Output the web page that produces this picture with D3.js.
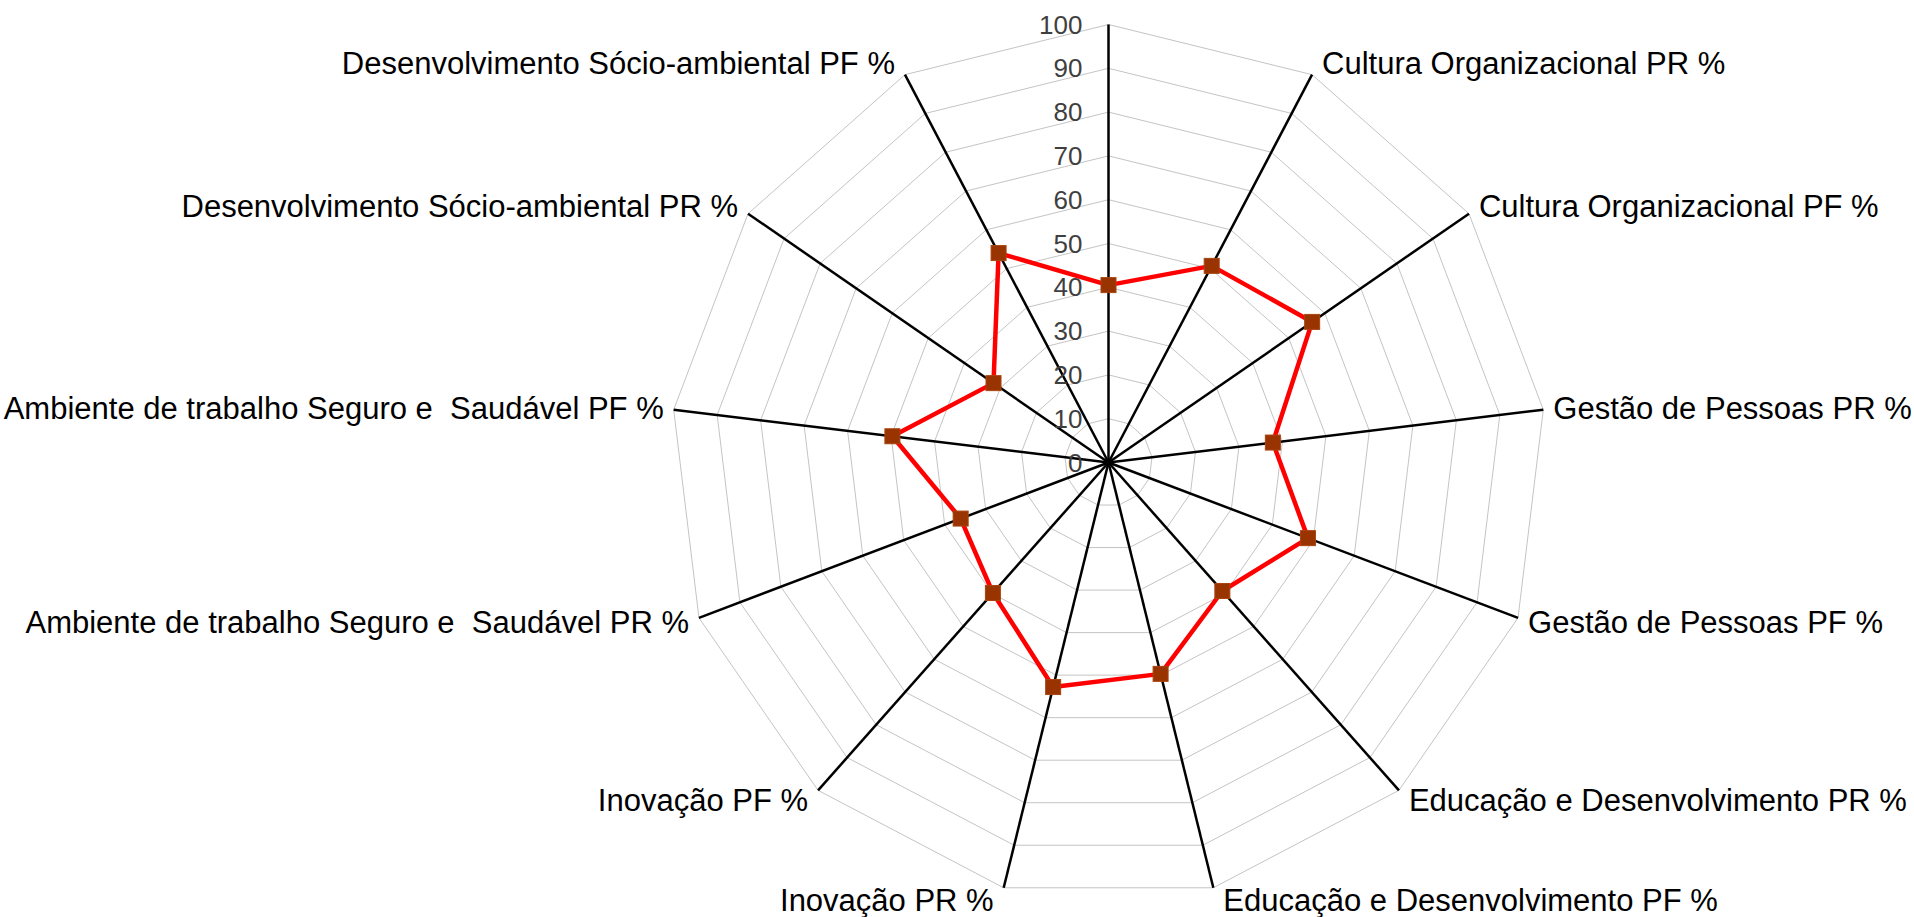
<!DOCTYPE html>
<html>
<head>
<meta charset="utf-8">
<script src="https://cdn.jsdelivr.net/npm/d3@7"></script>
<style>
  html, body { margin: 0; padding: 0; background: #fff; }
  svg { display: block; }
  text { font-family: "Liberation Sans", Arial, sans-serif; white-space: pre; }
</style>
</head>
<body>
<svg id="chart" width="1914" height="917"></svg>
<script>
// Dimensions (axes), clockwise from the top spoke
const categories = [
  "",
  "Cultura Organizacional PR %",
  "Cultura Organizacional PF %",
  "Gestão de Pessoas PR %",
  "Gestão de Pessoas PF %",
  "Educação e Desenvolvimento PR %",
  "Educação e Desenvolvimento PF %",
  "Inovação PR %",
  "Inovação PF %",
  "Ambiente de trabalho Seguro e  Saudável PR %",
  "Ambiente de trabalho Seguro e  Saudável PF %",
  "Desenvolvimento Sócio-ambiental PR %",
  "Desenvolvimento Sócio-ambiental PF %"
];

// Percentages for each dimension
const values = [40.5, 50.7, 56.5, 37.8, 48.7, 39.2, 49.7, 52.8, 39.8, 36.1, 49.7, 31.9, 54.0];

// Radial tick values
const ticks = [0, 10, 20, 30, 40, 50, 60, 70, 80, 90, 100];

const svg = d3.select("#chart");
const cx = 1108.5, cy = 462.5, R = 438;

const r = d3.scaleLinear().domain([0, 100]).range([0, R]);
const angle = d3.scaleLinear().domain([0, categories.length]).range([0, 2 * Math.PI]);

const g = svg.append("g").attr("transform", `translate(${cx},${cy})`);

const pt = (i, v) => [Math.sin(angle(i)) * r(v), -Math.cos(angle(i)) * r(v)];

// Concentric gridline polygons
const gridLine = d3.lineRadial()
  .angle((d, i) => angle(i))
  .radius(d => r(d))
  .curve(d3.curveLinearClosed);

g.append("g").selectAll("path")
  .data(ticks.filter(t => t > 0))
  .join("path")
  .attr("d", t => gridLine(categories.map(() => t)))
  .attr("fill", "none")
  .attr("stroke", "#c4c4c4")
  .attr("stroke-width", 1);

// Spokes
g.append("g").selectAll("line")
  .data(categories)
  .join("line")
  .attr("x1", 0).attr("y1", 0)
  .attr("x2", (d, i) => pt(i, 100)[0])
  .attr("y2", (d, i) => pt(i, 100)[1])
  .attr("stroke", "#000")
  .attr("stroke-width", 2.5);

// Radial tick labels along the top spoke
g.append("g").selectAll("text")
  .data(ticks)
  .join("text")
  .attr("x", -26)
  .attr("y", t => -r(t))
  .attr("text-anchor", "end")
  .attr("dominant-baseline", "central")
  .attr("font-size", 26)
  .attr("fill", "#3f3f3f")
  .text(t => t);

// Category labels just outside the spoke ends
g.append("g").selectAll("text")
  .data(categories)
  .join("text")
  .each(function (d, i) {
    const s = Math.sin(angle(i)), c = Math.cos(angle(i));
    const [x, y] = pt(i, 100);
    d3.select(this)
      .attr("x", x + (s > 0.05 ? 10 : s < -0.05 ? -10 : 0))
      .attr("y", y - c * 13)
      .attr("text-anchor", s > 0.05 ? "start" : s < -0.05 ? "end" : "middle");
  })
  .attr("dominant-baseline", "central")
  .attr("font-size", 31)
  .attr("fill", "#000")
  .text(d => d);

// Data series
const seriesLine = d3.lineRadial()
  .angle((d, i) => angle(i))
  .radius(d => r(d))
  .curve(d3.curveLinearClosed);

g.append("path")
  .attr("d", seriesLine(values))
  .attr("fill", "none")
  .attr("stroke", "#ff0000")
  .attr("stroke-width", 4.5)
  .attr("stroke-linejoin", "round");

const m = 15;
g.append("g").selectAll("rect")
  .data(values)
  .join("rect")
  .attr("x", (v, i) => pt(i, v)[0] - m / 2)
  .attr("y", (v, i) => pt(i, v)[1] - m / 2)
  .attr("width", m)
  .attr("height", m)
  .attr("fill", "#993300")
  .attr("stroke", "#a8450f")
  .attr("stroke-width", 1);
</script>
</body>
</html>
